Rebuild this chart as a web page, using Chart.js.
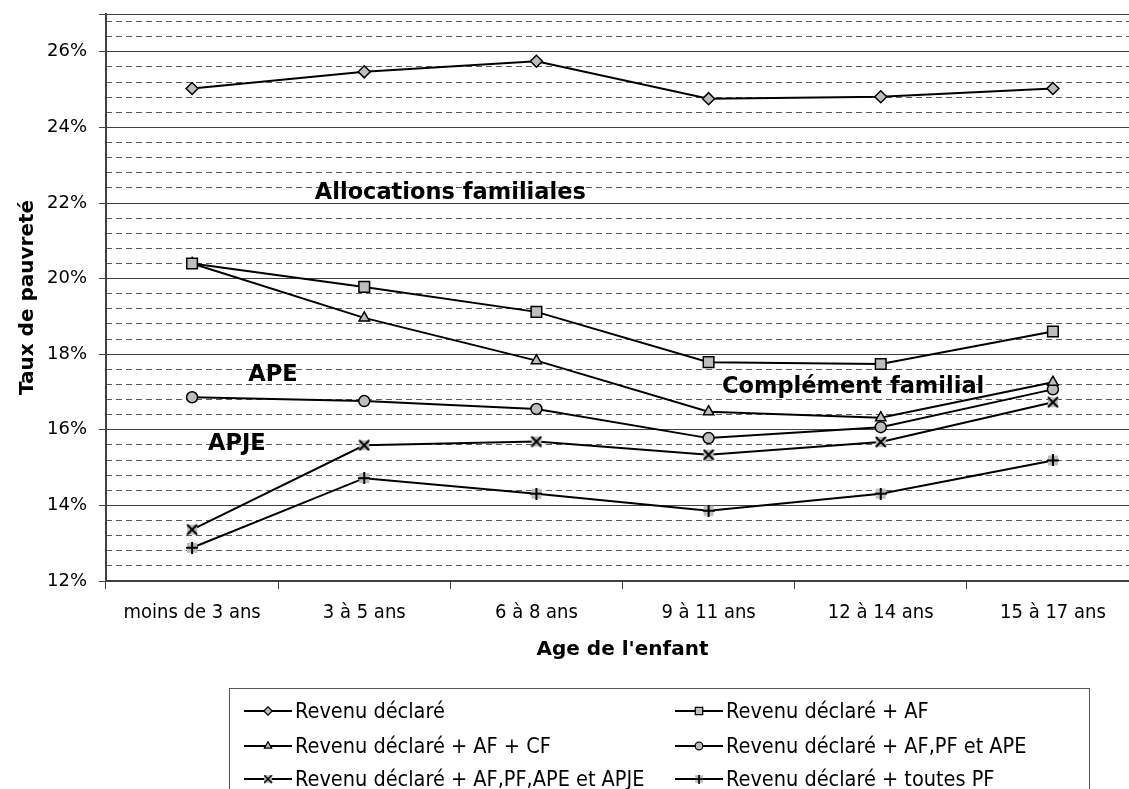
<!DOCTYPE html>
<html>
<head>
<meta charset="utf-8">
<title>Taux de pauvreté selon l'âge de l'enfant</title>
<script src="https://cdn.jsdelivr.net/npm/chart.js@4.4.1/dist/chart.umd.min.js"></script>
<style>
  html, body { margin: 0; padding: 0; background: #fff; overflow: hidden; }
  #wrap { width: 1150px; height: 789px; }
</style>
</head>
<body>
<div id="wrap"><canvas id="myChart" width="1150" height="789"></canvas></div>
<script>
// poverty rate (%) by age of the child, for each income definition
const ages = ['moins de 3 ans', '3 à 5 ans', '6 à 8 ans', '9 à 11 ans', '12 à 14 ans', '15 à 17 ans'];
const revenu = [25.03, 25.47, 25.75, 24.76, 24.81, 25.03];
const revenuAF = [20.40, 19.78, 19.12, 17.79, 17.74, 18.60];
const revenuAFCF = [20.40, 18.96, 17.83, 16.48, 16.32, 17.26];
const revenuAPE = [16.86, 16.76, 16.55, 15.78, 16.07, 17.07];
const revenuAPJE = [13.36, 15.59, 15.69, 15.34, 15.68, 16.73];
const revenuToutes = [12.88, 14.72, 14.31, 13.86, 14.31, 15.19];
const yLabels = [12, 14, 16, 18, 20, 22, 24, 26];

// text placed inside the plot (x = category index, y = rate)
const notes = [
    { text: 'Allocations familiales', x: 1.5, y: 22.26 },
    { text: 'APE', x: 0.47, y: 17.45 },
    { text: 'APJE', x: 0.26, y: 15.61 },
    { text: 'Complément familial', x: 3.84, y: 17.14 }
];

const GREY = '#bdbdbd';
const sans = "'DejaVu Sans', Verdana, sans-serif";
const narrow = "'DejaVu Sans Condensed', 'Liberation Sans Narrow', sans-serif";

// grey square with a cross on top, for the last two series
function boxMarker(kind, size) {
    const c = document.createElement('canvas');
    c.width = size; c.height = size;
    const g = c.getContext('2d');
    g.fillStyle = GREY;
    g.fillRect(1, 1, size - 2, size - 2);
    g.strokeStyle = '#000';
    g.lineWidth = 2;
    g.beginPath();
    if (kind === 'x') {
        g.moveTo(1, 1); g.lineTo(size - 1, size - 1);
        g.moveTo(size - 1, 1); g.lineTo(1, size - 1);
    } else {
        g.moveTo(size / 2, 0); g.lineTo(size / 2, size);
        g.moveTo(0, size / 2); g.lineTo(size, size / 2);
    }
    g.stroke();
    return c;
}

function series(label, data, style, radius) {
    return {
        label: label,
        data: data,
        yAxisID: 'y',
        borderColor: '#000',
        borderWidth: 2,
        tension: 0,
        fill: false,
        pointStyle: style,
        pointRadius: radius,
        pointHoverRadius: radius,
        pointBackgroundColor: GREY,
        pointBorderColor: '#000',
        pointBorderWidth: 1.5
    };
}

const datasets = [
    series('Revenu déclaré', revenu, 'rectRot', 6),
    series('Revenu déclaré + AF', revenuAF, 'rect', 7.5),
    series('Revenu déclaré + AF + CF', revenuAFCF, 'triangle', 6),
    series('Revenu déclaré + AF,PF et APE', revenuAPE, 'circle', 5.5),
    series('Revenu déclaré + AF,PF,APE et APJE', revenuAPJE, boxMarker('x', 12), 6),
    series('Revenu déclaré + toutes PF', revenuToutes, boxMarker('+', 12), 6)
];

const notesPlugin = {
    id: 'notes',
    afterDatasetsDraw(chart) {
        const ctx = chart.ctx;
        const xs = chart.scales.x, ys = chart.scales.y;
        ctx.save();
        ctx.font = 'bold 22.5px ' + sans;
        ctx.fillStyle = '#000';
        ctx.textAlign = 'center';
        ctx.textBaseline = 'middle';
        notes.forEach(n => {
            ctx.fillText(n.text, xs.getPixelForValue(n.x), ys.getPixelForValue(n.y));
        });
        ctx.restore();
    }
};

// two-column legend in a framed box under the axis title
const boxLegend = {
    id: 'boxLegend',
    afterDraw(chart) {
        const ctx = chart.ctx;
        const left = 229, top = 688, width = 860, height = 120;
        const cols = [244, 675];
        const rows = [711, 746, 779];
        ctx.save();
        ctx.strokeStyle = '#555';
        ctx.lineWidth = 1;
        ctx.strokeRect(left + 0.5, top + 0.5, width, height);
        ctx.font = '21.5px ' + narrow;
        ctx.textBaseline = 'middle';
        ctx.textAlign = 'left';
        chart.data.datasets.forEach((ds, i) => {
            const x = cols[i % 2];
            const y = rows[Math.floor(i / 2)];
            ctx.strokeStyle = '#000';
            ctx.lineWidth = 2;
            ctx.beginPath();
            ctx.moveTo(x, y);
            ctx.lineTo(x + 48, y);
            ctx.stroke();
            if (ds.pointStyle instanceof HTMLCanvasElement) {
                ctx.drawImage(ds.pointStyle, x + 24 - 4.5, y - 4.5, 9, 9);
            } else {
                ctx.fillStyle = GREY;
                ctx.strokeStyle = '#000';
                ctx.lineWidth = 1.2;
                Chart.helpers.drawPoint(ctx, {
                    pointStyle: ds.pointStyle,
                    radius: ds.pointRadius * 0.7,
                    rotation: 0,
                    borderWidth: 1.2
                }, x + 24, y);
            }
            ctx.fillStyle = '#000';
            ctx.fillText(ds.label, x + 51, y + 1);
        });
        ctx.restore();
    }
};

const minorTicks = [];
for (let i = 1; i < 38; i++) {
    const v = Math.round((12 + i * 0.4) * 10) / 10;
    if (v % 2 !== 0) minorTicks.push(v);
}

const ctx = document.getElementById('myChart');
new Chart(ctx, {
    type: 'line',
    data: {
        labels: ages,
        datasets: datasets
    },
    plugins: [notesPlugin, boxLegend],
    options: {
        responsive: false,
        animation: false,
        devicePixelRatio: 1,
        layout: { padding: { top: 14, right: 11, bottom: 123, left: 0 } },
        plugins: {
            legend: { display: false },
            tooltip: { enabled: false }
        },
        scales: {
            y: {
                position: 'left',
                min: 12,
                max: 27,
                afterBuildTicks: axis => {
                    axis.ticks = yLabels.concat([27]).map(v => ({ value: v }));
                },
                afterFit: axis => {
                    axis.width = 106;
                    axis.paddingTop = 0;
                    axis.paddingBottom = 0;
                },
                grid: { color: '#404040', lineWidth: 1, drawTicks: true, tickLength: 7, tickColor: '#404040' },
                border: { color: '#404040', width: 2 },
                ticks: {
                    callback: v => (v === 27 ? '' : v + '%'),
                    font: { family: sans, size: 18 },
                    color: '#000',
                    padding: 12
                },
                title: {
                    display: true,
                    text: 'Taux de pauvreté',
                    font: { family: sans, size: 20, weight: 'bold' },
                    color: '#000',
                    padding: { top: 16, bottom: 0 }
                }
            },
            yMinor: {
                position: 'left',
                min: 12,
                max: 27,
                afterBuildTicks: axis => {
                    axis.ticks = minorTicks.map(v => ({ value: v }));
                },
                afterFit: axis => {
                    axis.width = 0;
                    axis.paddingTop = 0;
                    axis.paddingBottom = 0;
                },
                grid: { color: '#5a5a5a', lineWidth: 1, drawTicks: false },
                border: { display: false, dash: [6, 4] },
                ticks: { display: false }
            },
            x: {
                offset: true,
                afterFit: axis => { axis.height = 85; },
                grid: { offset: true, drawOnChartArea: false, drawTicks: true, tickLength: 8, color: '#404040' },
                border: { color: '#404040', width: 1.5 },
                ticks: {
                    font: { family: narrow, size: 20 },
                    color: '#000',
                    padding: 12,
                    maxRotation: 0,
                    autoSkip: false
                },
                title: {
                    display: true,
                    text: "Age de l'enfant",
                    font: { family: sans, size: 20, weight: 'bold' },
                    color: '#000',
                    padding: { top: 4, bottom: 4 }
                }
            }
        }
    }
});
</script>
</body>
</html>
